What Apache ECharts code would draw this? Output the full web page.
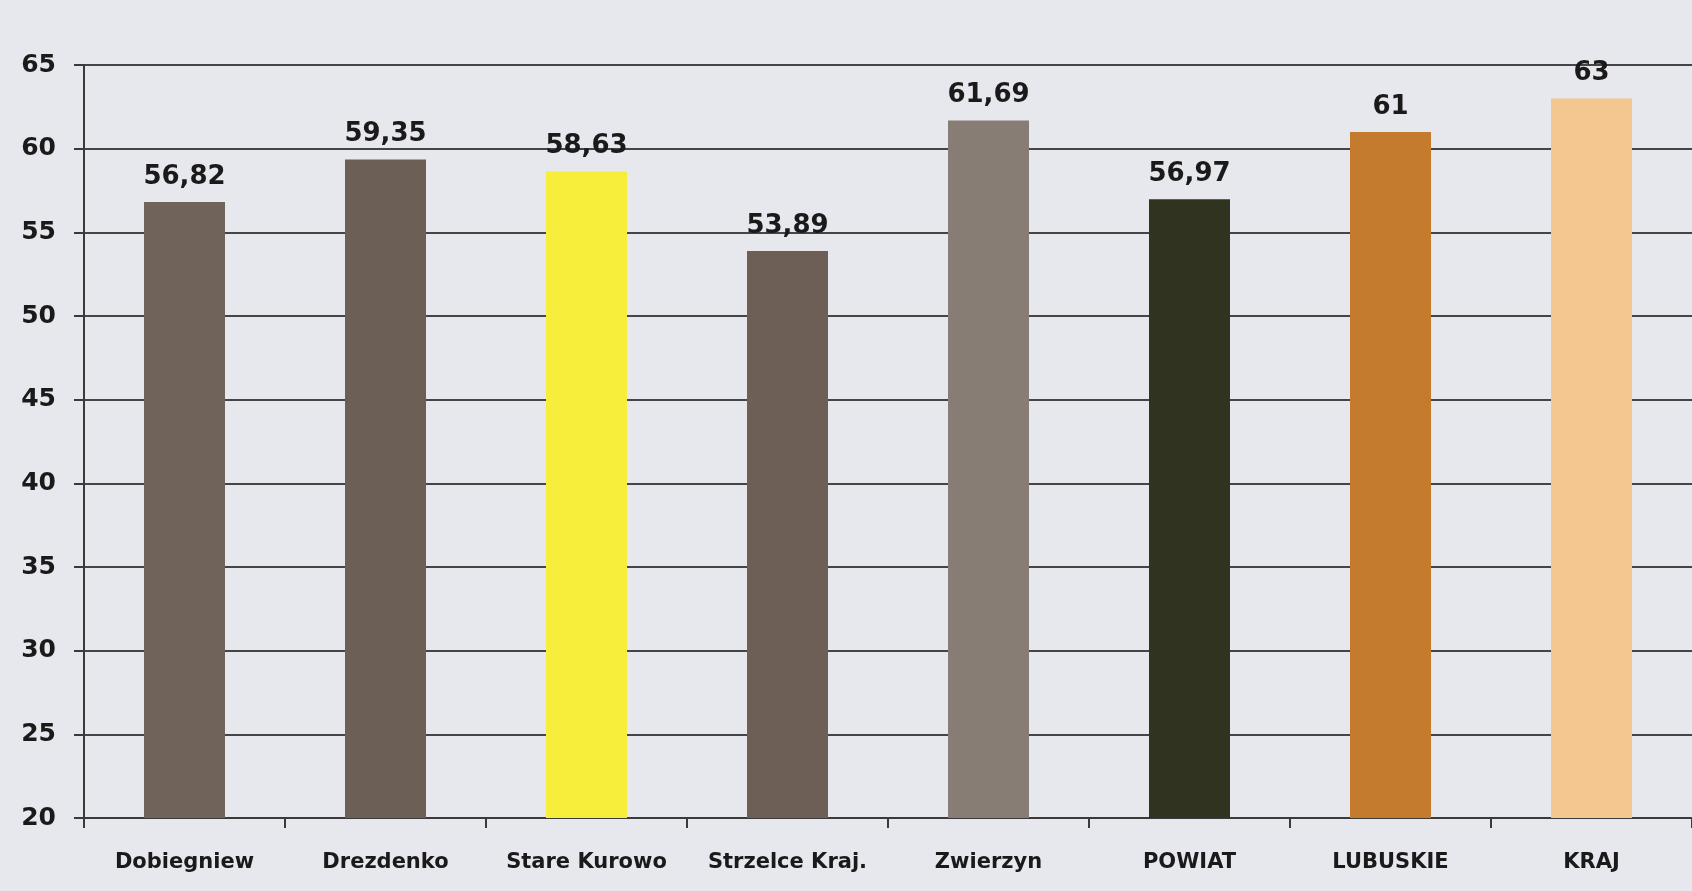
<!DOCTYPE html>
<html><head><meta charset="utf-8">
<script src="https://cdn.jsdelivr.net/npm/echarts@6/dist/echarts.min.js"></script>
<style>html,body{margin:0;padding:0;background:#e7e7ee;}#c{width:1692px;height:891px;}</style>
</head><body><div id="c"></div>
<script>
const categories = ['Dobiegniew','Drezdenko','Stare Kurowo','Strzelce Kraj.','Zwierzyn','POWIAT','LUBUSKIE','KRAJ'];
const values = [56.82, 59.35, 58.63, 53.89, 61.69, 56.97, 61, 63];
const valueLabels = ['56,82','59,35','58,63','53,89','61,69','56,97','61','63'];
const barColors = ['#6f635a','#6c6056','#f7ee3c','#6d5f56','#877d75','#30331f','#c47b2e','#f3c78f'];
const yTicks = [20,25,30,35,40,45,50,55,60,65];

const chart = echarts.init(document.getElementById('c'));
const font = '"DejaVu Sans", sans-serif';
chart.setOption({
  backgroundColor: '#e7e7ee',
  animation: false,
  grid: {left: 84, right: 0, top: 65, bottom: 73},
  xAxis: {
    type: 'category', data: categories,
    axisLine: {lineStyle: {color: '#3a3a3a', width: 2}},
    axisTick: {show: true, length: 10, interval: 0, lineStyle: {color: '#3a3a3a', width: 2}},
    axisLabel: {interval: 0, color: '#1a1a1a', fontFamily: font, fontWeight: 'bold', fontSize: 21, margin: 34}
  },
  yAxis: {
    type: 'value', min: yTicks[0], max: yTicks[yTicks.length-1], interval: 5,
    axisLine: {show: true, lineStyle: {color: '#3a3a3a', width: 2}},
    axisTick: {show: true, length: 10, lineStyle: {color: '#3a3a3a', width: 2}},
    splitLine: {lineStyle: {color: '#454545', width: 2}},
    axisLabel: {color: '#1a1a1a', fontFamily: font, fontWeight: 'bold', fontSize: 25, margin: 28}
  },
  series: [{
    type: 'bar', barWidth: 81,
    data: values.map((v,i) => ({value: v, itemStyle: {color: barColors[i]}})),
    label: {show: true, position: 'top', distance: 12,
      formatter: p => valueLabels[p.dataIndex],
      color: '#1a1a1a', fontFamily: font, fontWeight: 'bold', fontSize: 26}
  }]
});
</script></body></html>
